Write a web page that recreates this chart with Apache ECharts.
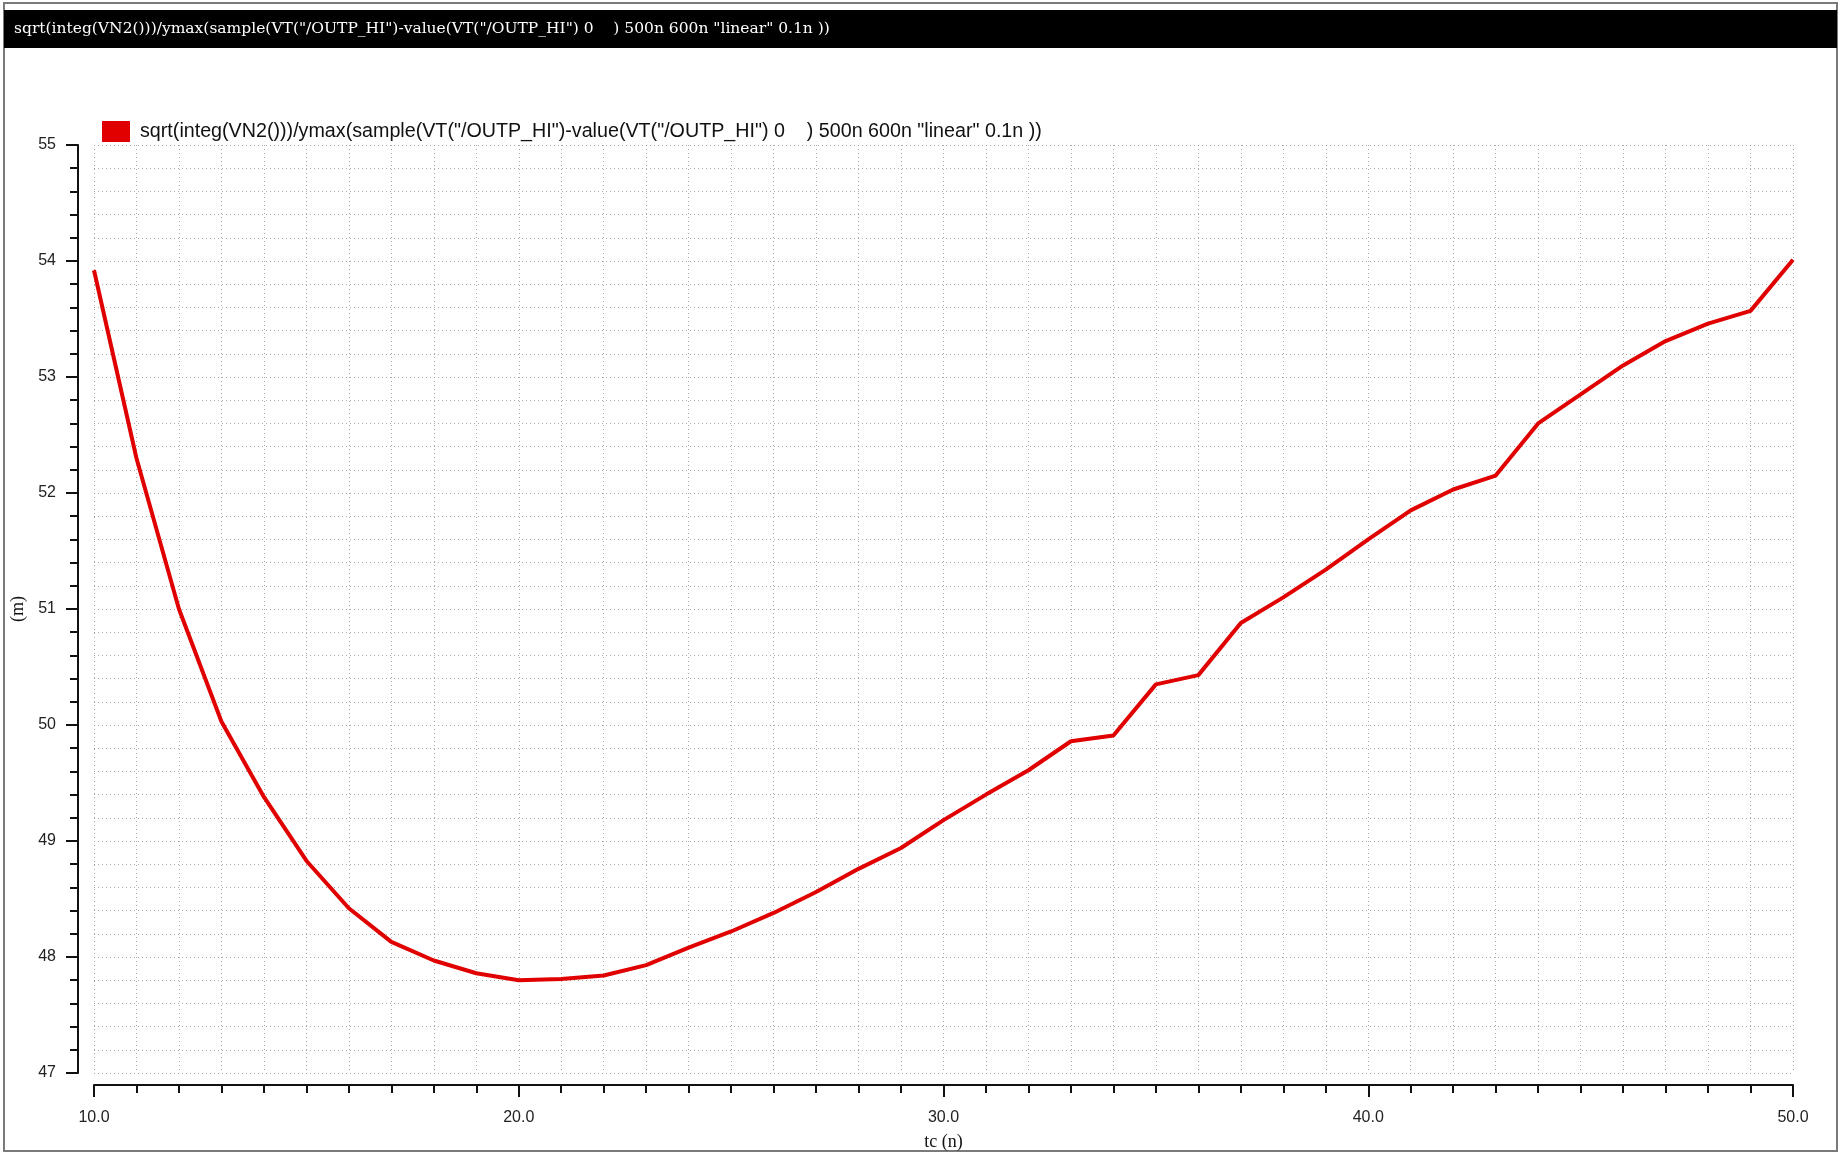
<!DOCTYPE html>
<html>
<head>
<meta charset="utf-8">
<script src="https://cdn.jsdelivr.net/npm/echarts@6/dist/echarts.min.js"></script>
<style>
html,body{margin:0;padding:0;background:#fff;}
#chart{width:1840px;height:1154px;}
</style>
</head>
<body>
<div id="chart"></div>
<script>
const titleText = 'sqrt(integ(VN2()))/ymax(sample(VT("/OUTP_HI")-value(VT("/OUTP_HI") 0    ) 500n 600n "linear" 0.1n ))';
const seriesName = 'sqrt(integ(VN2()))/ymax(sample(VT("/OUTP_HI")-value(VT("/OUTP_HI") 0    ) 500n 600n "linear" 0.1n ))';
const xName = 'tc (n)';
const yName = '(m)';
const xTickLabels = ['10.0', '20.0', '30.0', '40.0', '50.0'];
const yTickLabels = ['47', '48', '49', '50', '51', '52', '53', '54', '55'];
const tcValues = [10, 11, 12, 13, 14, 15, 16, 17, 18, 19, 20, 21, 22, 23, 24, 25, 26, 27, 28, 29, 30,
                  31, 32, 33, 34, 35, 36, 37, 38, 39, 40, 41, 42, 43, 44, 45, 46, 47, 48, 49, 50];
const noiseValues = [53.92, 52.30, 51.00, 50.03, 49.38, 48.83, 48.42, 48.13, 47.97, 47.86, 47.80,
                     47.81, 47.84, 47.93, 48.08, 48.22, 48.38, 48.56, 48.76, 48.94, 49.18,
                     49.40, 49.61, 49.86, 49.91, 50.35, 50.43, 50.88, 51.10, 51.34, 51.60,
                     51.85, 52.03, 52.15, 52.60, 52.85, 53.10, 53.31, 53.46, 53.57, 54.01];

const chart = echarts.init(document.getElementById('chart'), null, {renderer: 'canvas'});
const gridColor = '#aaaaaa';
const dotted = {color: gridColor, width: 1, type: [1, 3]};

const option = {
  backgroundColor: '#ffffff',
  animation: false,
  graphic: [
    {type: 'rect', shape: {x: 4, y: 3, width: 1833, height: 1148}, style: {fill: 'none', stroke: '#7a7a7a', lineWidth: 2}, z: 0},
    {type: 'rect', shape: {x: 4, y: 10, width: 1833, height: 38}, style: {fill: '#000000'}, z: 1},
    {type: 'text', x: 14, y: 29, style: {text: titleText, fill: '#ffffff', font: '15.5px "DejaVu Serif"', verticalAlign: 'middle', align: 'left'}, z: 2}
  ],
  legend: {
    left: 97, top: 116,
    icon: 'rect', itemWidth: 28, itemHeight: 21, itemGap: 10,
    textStyle: {fontFamily: 'Liberation Sans', fontSize: 19.7, color: '#111', padding: [0, 0, 0, 5]},
    data: [seriesName]
  },
  grid: {left: 94, right: 47, top: 145, bottom: 81, containLabel: false, outerBoundsMode: 'none'},
  xAxis: {
    type: 'value', min: 10, max: 50, interval: 10, offset: 12,
    name: xName, nameLocation: 'middle', nameGap: 48,
    nameTextStyle: {fontFamily: 'Liberation Serif', fontSize: 18, color: '#111'},
    axisLine: {show: true, onZero: false, lineStyle: {color: '#111', width: 2}},
    axisTick: {show: true, length: 12, inside: false, lineStyle: {color: '#111', width: 2}},
    minorTick: {show: true, splitNumber: 10, length: 8, lineStyle: {color: '#111', width: 2}},
    axisLabel: {show: true, margin: 25, showMinLabel: true, showMaxLabel: true,
      fontFamily: 'Liberation Sans', fontSize: 16, color: '#222',
      formatter: v => xTickLabels[Math.round((v - 10) / 10)]},
    splitLine: {show: true, lineStyle: dotted},
    minorSplitLine: {show: true, lineStyle: dotted}
  },
  yAxis: {
    type: 'value', min: 47, max: 55, interval: 1, offset: 16,
    name: yName, nameLocation: 'middle', nameGap: 46, nameRotate: 90,
    nameTextStyle: {fontFamily: 'Liberation Serif', fontSize: 18, color: '#111'},
    axisLine: {show: true, onZero: false, lineStyle: {color: '#111', width: 2}},
    axisTick: {show: true, length: 12, inside: false, lineStyle: {color: '#111', width: 2}},
    minorTick: {show: true, splitNumber: 5, length: 8, lineStyle: {color: '#111', width: 2}},
    axisLabel: {show: true, margin: 22, showMinLabel: true, showMaxLabel: true,
      fontFamily: 'Liberation Sans', fontSize: 16, color: '#222',
      formatter: v => yTickLabels[Math.round(v - 47)]},
    splitLine: {show: true, lineStyle: dotted},
    minorSplitLine: {show: true, lineStyle: dotted}
  },
  series: [{
    name: seriesName,
    type: 'line',
    data: tcValues.map((x, i) => [x, noiseValues[i]]),
    showSymbol: false,
    symbol: 'none',
    lineStyle: {color: '#e00000', width: 4},
    itemStyle: {color: '#e00000'},
    clip: false
  }]
};
chart.setOption(option);
</script>
</body>
</html>
